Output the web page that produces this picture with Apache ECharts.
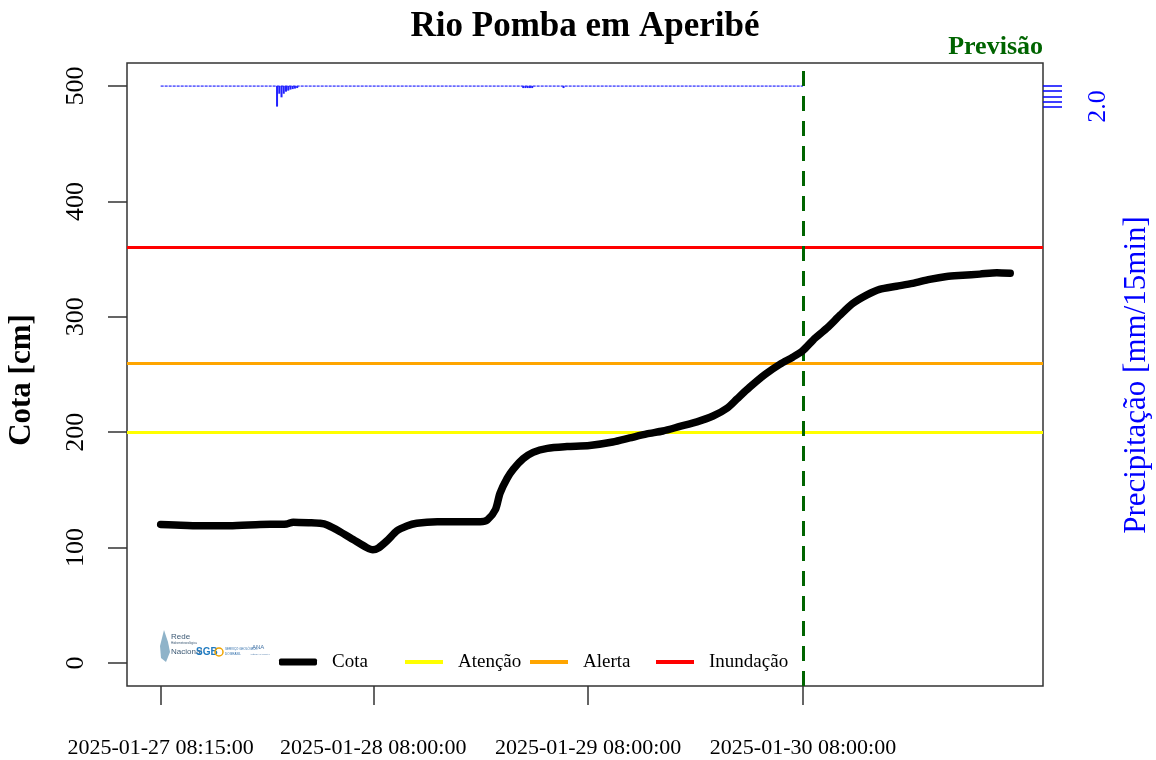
<!DOCTYPE html>
<html>
<head>
<meta charset="utf-8">
<script src="https://cdn.jsdelivr.net/npm/echarts@6/dist/echarts.min.js"></script>
<style>
html,body{margin:0;padding:0;background:#fff;}
#chart{width:1156px;height:760px;}
</style>
</head>
<body>
<div id="chart"></div>
<script>
// ---- data (hours since 2025-01-27 08:15) ----
var cotaHours = [0, 1.6, 4.4, 7.7, 11.1, 14.1, 14.8, 16.7, 17.8, 18.6, 20.0, 21.5, 23.0, 23.7, 24.3, 25.3, 26.4, 27.5, 28.6, 30.9, 35.7, 36.5, 37.4, 37.9, 38.7, 39.4, 40.5, 41.6, 43.2, 45.4, 47.9, 50.5, 52.4, 54.3, 56.1, 58.0, 59.9, 61.7, 63.3, 64.4, 65.8, 67.5, 69.2, 70.6, 71.7, 72.9, 74.4, 75.9, 77.3, 78.9, 80.3, 82.2, 84.0, 85.9, 87.8, 89.6, 91.5, 93.4, 94.9];
var cotaCm = [120, 119.5, 118.8, 118.8, 120, 120.5, 122, 121.5, 121, 119.6, 114, 107, 100, 98, 99.5, 106, 114.5, 118.7, 121, 122.3, 122.4, 124, 133, 147, 160, 168, 177, 182.5, 186, 187.5, 188.5, 191.5, 195, 198.5, 201, 205, 209, 214, 221, 229, 239, 250, 259, 265, 270.5, 280, 290, 301.5, 311.5, 319, 323.8, 326.5, 329, 332.5, 335, 336, 337, 338.3, 337.8];

var rainHours = [13.0, 13.25, 13.5, 13.75, 14.0, 14.25, 14.5, 14.75, 15.0, 15.25, 40.5, 40.75, 41.0, 41.25, 41.5, 45.0];
var rainMm = [2.0, 0.75, 1.1, 0.75, 0.55, 0.45, 0.35, 0.3, 0.25, 0.2, 0.2, 0.2, 0.2, 0.2, 0.2, 0.2];
var rainObsHours = [0, 71.75];

var thresholdNames = ['Atenção', 'Alerta', 'Inundação'];
var thresholdValues = [200, 260, 360];
var thresholdColors = ['#ffff00', '#ffa500', '#ff0000'];

var forecastStartHour = 71.75;

var xTickHours = [0, 23.75, 47.75, 71.75];
var xTickLabels = ['2025-01-27 08:15:00', '2025-01-28 08:00:00', '2025-01-29 08:00:00', '2025-01-30 08:00:00'];
var yTicks = [0, 100, 200, 300, 400, 500];
var rainTicks = [0, 0.5, 1.0, 1.5, 2.0];
var rainLabelTicks = [2.0];

// ---- chart ----
var FONT = 'Liberation Serif';
var chart = echarts.init(document.getElementById('chart'), null, {renderer: 'canvas'});

var cotaData = cotaHours.map(function (h, i) { return [h, cotaCm[i]]; });
var rainData = rainHours.map(function (h, i) { return [h, rainMm[i]]; });
var rainZero = rainObsHours.map(function (h) { return [h, 0]; });

var XMIN = -3.76, XMAX = 98.56;

var series = [];
thresholdNames.forEach(function (n, i) {
  series.push({
    name: n, type: 'line', xAxisIndex: 0, yAxisIndex: 0, data: [],
    itemStyle: {color: thresholdColors[i]},
    lineStyle: {color: thresholdColors[i], width: 3},
    z: 2,
    markLine: {
      silent: true, symbol: ['none', 'none'], label: {show: false},
      lineStyle: {color: thresholdColors[i], width: 3, type: 'solid'},
      data: [{yAxis: thresholdValues[i]}],
      animation: false
    }
  });
});
series.push({
  name: 'Cota', type: 'line', xAxisIndex: 0, yAxisIndex: 0, data: cotaData,
  showSymbol: false, smooth: 0.25, z: 5,
  itemStyle: {color: '#000'},
  lineStyle: {color: '#000', width: 7.5, cap: 'round', join: 'round'}
});
series.push({
  name: 'Previsão', type: 'line', xAxisIndex: 0, yAxisIndex: 0, data: [], z: 8,
  markLine: {
    silent: true, symbol: ['none', 'none'], label: {show: false},
    lineStyle: {color: '#006400', width: 3, type: [15, 10]},
    data: [{xAxis: forecastStartHour}],
    animation: false
  }
});
series.push({
  name: 'rainzero', type: 'line', xAxisIndex: 1, yAxisIndex: 1, data: rainZero,
  showSymbol: false, z: 3,
  lineStyle: {color: '#3a3aff', width: 1.5, type: [3, 1]}
});
series.push({
  name: 'Chuva', type: 'bar', xAxisIndex: 1, yAxisIndex: 1, data: rainData,
  barWidth: 2, z: 4, itemStyle: {color: '#2222ff'}
});

function legendAt(name, left, h, icon) {
  return {
    data: [name], left: left, top: 662 - 12, orient: 'horizontal',
    itemWidth: 38, itemHeight: h, icon: icon, selectedMode: false,
    padding: 0, itemGap: 0,
    textStyle: {fontFamily: FONT, fontSize: 19, color: '#000', padding: [0, 0, 0, 10], lineHeight: 24, height: 24}
  };
}

var option = {
  animation: false,
  backgroundColor: '#fff',
  grid: [
    {left: 127, right: 113, top: 63, bottom: 74, show: true, borderColor: '#333', borderWidth: 1.5, backgroundColor: 'transparent', containLabel: false},
    {left: 127, right: 113, top: 86, height: 25.75, show: false, containLabel: false}
  ],
  xAxis: [
    {
      type: 'value', gridIndex: 0, min: XMIN, max: XMAX,
      splitLine: {show: false}, axisLine: {show: false, onZero: false},
      axisTick: {show: true, customValues: xTickHours, length: 19, lineStyle: {color: '#333', width: 1.5}},
      axisLabel: {
        customValues: xTickHours, margin: 51, fontFamily: FONT, fontSize: 22, color: '#000',
        formatter: function (v) {
          for (var i = 0; i < xTickHours.length; i++) if (Math.abs(xTickHours[i] - v) < 1e-6) return xTickLabels[i];
          return '';
        }
      }
    },
    {
      type: 'value', gridIndex: 1, min: XMIN, max: XMAX, show: false, axisLine: {onZero: false}
    }
  ],
  yAxis: [
    {
      type: 'value', gridIndex: 0, min: -20, max: 520,
      splitLine: {show: false}, axisLine: {show: false, onZero: false},
      axisTick: {show: true, customValues: yTicks, length: 19, lineStyle: {color: '#333', width: 1.5}},
      axisLabel: {customValues: yTicks, rotate: 90, margin: 38, fontFamily: FONT, fontSize: 26, color: '#000'}
    },
    {
      type: 'value', gridIndex: 1, position: 'right', inverse: true, min: 0, max: 2.5,
      splitLine: {show: false}, axisLine: {show: false, onZero: false},
      axisTick: {show: true, customValues: rainTicks, length: 19, lineStyle: {color: '#0000ff', width: 1.5}},
      axisLabel: {
        customValues: rainLabelTicks, rotate: 90, margin: 42, fontFamily: FONT, fontSize: 26, color: '#0000ff',
        formatter: function (v) { return v.toFixed(1); }
      }
    }
  ],
  legend: [
    legendAt('Cota', 279, 7, 'roundRect'),
    legendAt('Atenção', 405, 4, 'rect'),
    legendAt('Alerta', 530, 4, 'rect'),
    legendAt('Inundação', 656, 4, 'rect')
  ],
  series: series,
  graphic: [
    {type: 'text', x: 585, y: 27, style: {text: 'Rio Pomba em Aperibé', font: 'bold 35px "Liberation Serif"', fill: '#000', textAlign: 'center', textVerticalAlign: 'middle'}},
    {type: 'text', x: 1043, y: 47, style: {text: 'Previsão', font: 'bold 26px "Liberation Serif"', fill: '#006400', textAlign: 'right', textVerticalAlign: 'middle'}},
    {type: 'text', x: 22, y: 380, rotation: Math.PI / 2, style: {text: 'Cota [cm]', font: 'bold 31px "Liberation Serif"', fill: '#000', textAlign: 'center', textVerticalAlign: 'middle'}},
    {type: 'text', x: 1137, y: 375, rotation: Math.PI / 2, style: {text: 'Precipitação [mm/15min]', font: '31px "Liberation Serif"', fill: '#0000ff', textAlign: 'center', textVerticalAlign: 'middle'}},
    // small partner logos (approximation)
    {type: 'polygon', shape: {points: [[164, 630], [168, 642], [170, 652], [166, 662], [161, 658], [160, 646]]}, style: {fill: '#8fb3c9'}},
    {type: 'text', x: 171, y: 633, style: {text: 'Rede', font: '8px "Liberation Sans"', fill: '#3d5a75'}},
    {type: 'text', x: 171, y: 642, style: {text: 'Hidrometeorológica', font: '3px "Liberation Sans"', fill: '#3d5a75'}},
    {type: 'text', x: 171, y: 648, style: {text: 'Nacional', font: '8px "Liberation Sans"', fill: '#3d5a75'}},
    {type: 'text', x: 196, y: 647, style: {text: 'SGB', font: 'bold 10px "Liberation Sans"', fill: '#1f7ac0'}},
    {type: 'circle', shape: {cx: 219, cy: 652, r: 4}, style: {fill: 'none', stroke: '#f0a400', lineWidth: 1.5}},
    {type: 'text', x: 225, y: 648, style: {text: 'SERVIÇO GEOLÓGICO', font: '3px "Liberation Sans"', fill: '#2a6aa8'}},
    {type: 'text', x: 225, y: 653, style: {text: 'DO BRASIL', font: '3px "Liberation Sans"', fill: '#2a6aa8'}},
    {type: 'text', x: 252, y: 644, style: {text: 'ANA', font: '6px "Liberation Sans"', fill: '#4a78a8'}},
    {type: 'text', x: 250, y: 653, style: {text: 'AGÊNCIA NACIONAL', font: '2px "Liberation Sans"', fill: '#4a78a8'}}
  ]
};
chart.setOption(option);
</script>
</body>
</html>
